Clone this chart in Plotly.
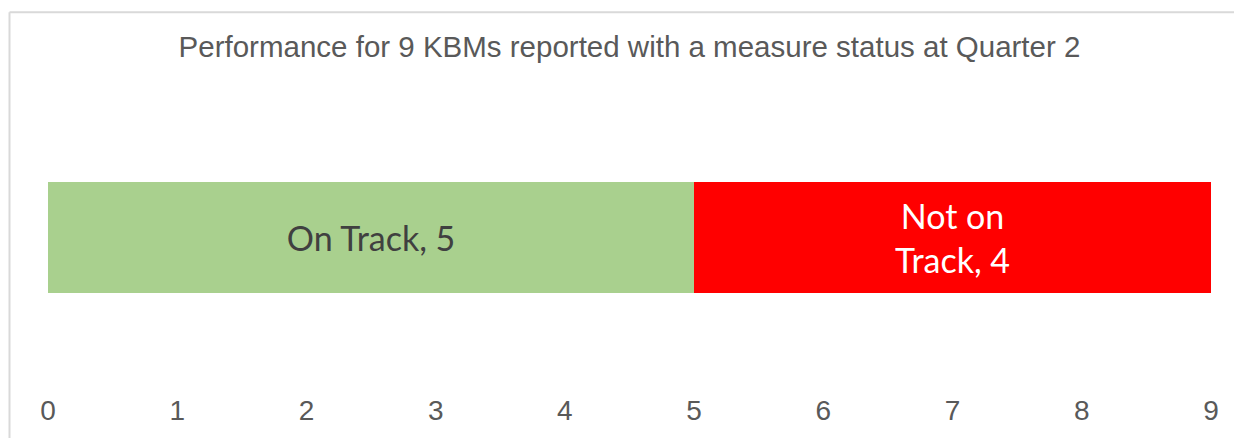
import plotly.graph_objects as go

# Data
categories = ["On Track", "Not on Track"]
values = [5, 4]
label_texts = ["On Track, 5", "Not on<br>Track, 4"]
bar_colors = ["#A9D08E", "#FF0000"]
label_colors = ["#404040", "#FFFFFF"]
tick_values = list(range(0, 10))
title_text = "Performance for 9 KBMs reported with a measure status at Quarter 2"

W, H = 1234, 438
ml, mr, mt, mb = 48, 23, 100, 41
plot_w = W - ml - mr
plot_h = H - mt - mb

fig = go.Figure()
for cat, val, txt, col, tcol in zip(categories, values, label_texts, bar_colors, label_colors):
    fig.add_trace(go.Bar(
        y=["KBM"], x=[val], name=cat, orientation="h",
        marker=dict(color=col, line=dict(width=0)),
        text=[txt], textposition="inside", insidetextanchor="middle",
        textfont=dict(family="Lato, Noto Sans, sans-serif", size=34, color=tcol),
        width=1, hoverinfo="skip",
    ))

def px_x(px):
    return (px - ml) / plot_w

def px_y(py):
    return (H - mb - py) / plot_h

fig.update_layout(
    width=W, height=H,
    margin=dict(l=ml, r=mr, t=mt, b=mb),
    barmode="stack",
    showlegend=False,
    plot_bgcolor="white", paper_bgcolor="white",
    uniformtext=dict(mode=False),
    title=dict(
        text=title_text, x=0.5, xref="paper", xanchor="center",
        y=1 - 47 / H, yref="container", yanchor="middle",
        font=dict(family="Liberation Sans, Arial, sans-serif", size=29.5, color="#595959"),
    ),
    xaxis=dict(
        range=[0, 9], tickvals=tick_values, showgrid=False, zeroline=False,
        showline=False, ticks="",
        tickfont=dict(family="Liberation Sans, Arial, sans-serif", size=28, color="#595959"),
    ),
    yaxis=dict(
        range=[-1.383, 1.244], showticklabels=False, showgrid=False,
        zeroline=False, showline=False, ticks="",
    ),
    shapes=[
        dict(type="line", xref="paper", yref="paper",
             x0=px_x(9.5), x1=px_x(1240), y0=px_y(10.5), y1=px_y(10.5),
             line=dict(color="#D9D9D9", width=2)),
        dict(type="line", xref="paper", yref="paper",
             x0=px_x(9.5), x1=px_x(9.5), y0=px_y(10.5), y1=px_y(445),
             line=dict(color="#D9D9D9", width=2)),
    ],
)

fig.write_html(
    "out.html",
    config={"displayModeBar": False, "staticPlot": True},
    post_script="document.body.style.margin='0';document.body.style.padding='0';",
)
